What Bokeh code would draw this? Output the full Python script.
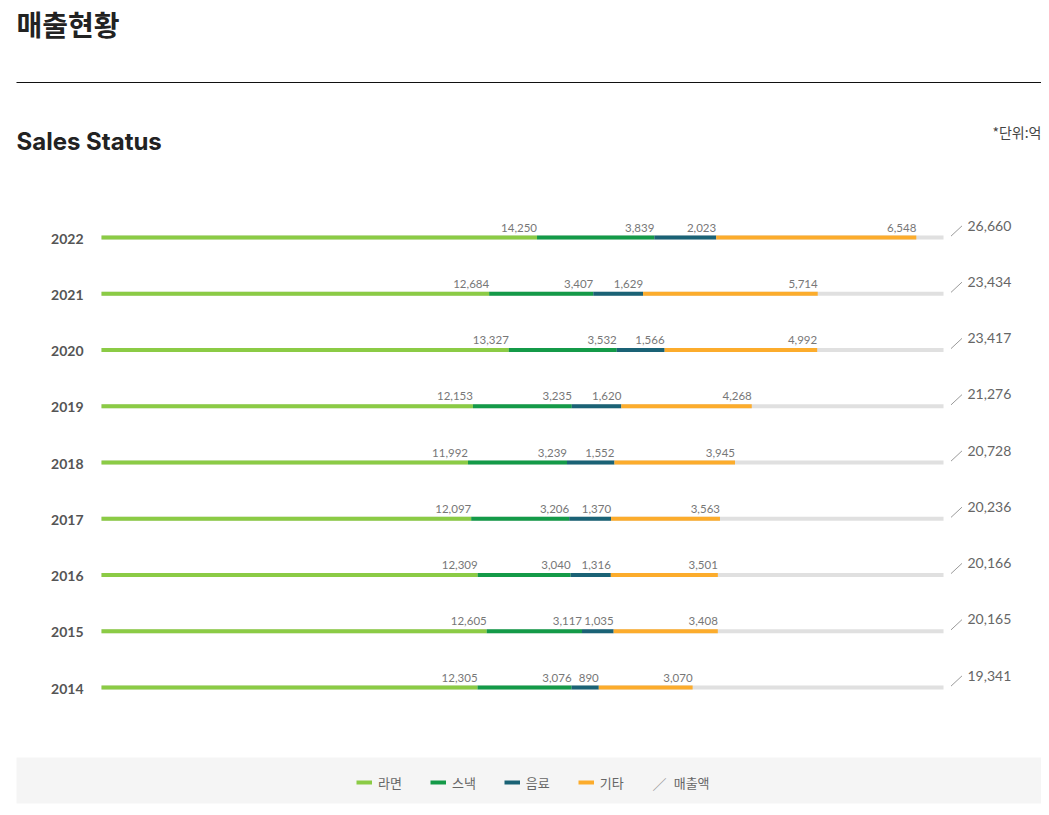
from bokeh.plotting import figure
from bokeh.models import (ColumnDataSource, Range1d, Label, BoxAnnotation,
                          Legend, LegendItem)
from bokeh.core.properties import value
from bokeh.transform import dodge
from bokeh.embed import file_html
from bokeh.resources import INLINE

# ---------------- data (unit: 억) ----------------
YEARS = ["2022", "2021", "2020", "2019", "2018", "2017", "2016", "2015", "2014"]
RAMEN = [14250, 12684, 13327, 12153, 11992, 12097, 12309, 12605, 12305]
SNACK = [3839, 3407, 3532, 3235, 3239, 3206, 3040, 3117, 3076]
DRINK = [2023, 1629, 1566, 1620, 1552, 1370, 1316, 1035, 890]
OTHER = [6548, 5714, 4992, 4268, 3945, 3563, 3501, 3408, 3070]
TOTAL = [26660, 23434, 23417, 21276, 20728, 20236, 20166, 20165, 19341]
SERIES_NAMES = ["라면", "스낵", "음료", "기타"]
TOTAL_NAME = "매출액"
TRACK_MAX = 27550  # length of the grey background track

# ---------------- style ----------------
COLORS = ["#8BCB45", "#149A48", "#1A6275", "#FCAC2C"]
TRACK_COLOR = "#E0E0E0"
NUM_FONT = "Lato"
KR_FONT = "Noto Sans CJK KR"

W, H = 1041, 808
LEFT_PX, TRACK_PX = 101, 842
ROW0_PX, ROW_PX = 237, 56.25

sx = TRACK_PX / TRACK_MAX
x_start = -LEFT_PX / sx
x_end = x_start + W / sx
y_top = -ROW0_PX / ROW_PX
y_bottom = (H - ROW0_PX) / ROW_PX

p = figure(width=W, height=H, x_range=Range1d(x_start, x_end),
           y_range=Range1d(y_bottom, y_top), x_axis_type=None, y_axis_type=None,
           toolbar_location=None, output_backend="svg", min_border=0,
           outline_line_color=None, background_fill_color="white")

n = len(YEARS)
rows = list(range(n))
series = [RAMEN, SNACK, DRINK, OTHER]
data = dict(row=rows, year=YEARS, zero=[0] * n, track=[TRACK_MAX] * n,
            total_label=[f"{v:,}" for v in TOTAL])
cum = [0] * n
for i, vals in enumerate(series):
    data[f"s{i}"] = list(cum)
    cum = [c + v for c, v in zip(cum, vals)]
    data[f"e{i}"] = list(cum)
    data[f"l{i}"] = [f"{v:,}" for v in vals]
src = ColumnDataSource(data)

# background track
p.segment(x0="zero", x1="track", y0="row", y1="row", source=src,
          line_color=TRACK_COLOR, line_width=4)

seg_renderers = []
for i in range(4):
    r = p.segment(x0=f"s{i}", x1=f"e{i}", y0="row", y1="row", source=src,
                  line_color=COLORS[i], line_width=4)
    seg_renderers.append(r)

for i in range(4):
    p.text(x=f"e{i}", y="row", text=f"l{i}", source=src, text_align="right",
           text_baseline="middle", y_offset=-10, text_font=value(NUM_FONT),
           text_font_size="11.5px", text_color="#777777")

# year labels
p.text(x="zero", y="row", text="year", source=src, text_align="right",
       text_baseline="middle", x_offset=-18, y_offset=1, text_font=value(NUM_FONT),
       text_font_size="14px", text_font_style=value("bold"), text_color="#555555")

# totals: slash + label
p.scatter(x=dodge("track", 13 / sx, range=p.x_range),
          y=dodge("row", -6.5 / ROW_PX, range=p.y_range), source=src,
          marker="dash", size=15, angle=0.75, line_color="#9a9a9a", line_width=1)
tot_r = p.text(x="track", y="row", text="total_label", source=src, text_align="left",
               text_baseline="middle", x_offset=24, y_offset=-12,
               text_font=value(NUM_FONT), text_font_size="14px", text_color="#666666")

# ---------------- titles ----------------
p.add_layout(Label(x=16, y=H - 23, x_units="screen", y_units="screen", text="매출현황",
                   text_font=KR_FONT, text_font_size="28px", text_font_style="bold",
                   text_color="#222222", text_baseline="middle"))
p.add_layout(BoxAnnotation(left=16, right=W, top=H - 81.5, bottom=H - 82.5,
                           left_units="screen", right_units="screen",
                           top_units="screen", bottom_units="screen",
                           fill_color="#111111", fill_alpha=1, line_color=None))
p.add_layout(Label(x=16, y=H - 141, x_units="screen", y_units="screen", text="Sales Status",
                   text_font="Inter", text_font_size="24px", text_font_style="bold",
                   text_color="#222222", text_baseline="middle"))
p.add_layout(Label(x=W, y=H - 131, x_units="screen", y_units="screen", text="*단위:억",
                   text_font=KR_FONT, text_font_size="14px", text_color="#444444",
                   text_align="right", text_baseline="middle"))

# ---------------- legend ----------------
p.add_layout(BoxAnnotation(left=16, right=W, top=H - 757, bottom=H - 803,
                           left_units="screen", right_units="screen",
                           top_units="screen", bottom_units="screen",
                           fill_color="#F5F5F5", fill_alpha=1, line_color=None))
items = [LegendItem(label=name, renderers=[r]) for name, r in zip(SERIES_NAMES, seg_renderers)]
items.append(LegendItem(label=TOTAL_NAME, renderers=[tot_r]))
legend = Legend(items=items, orientation="horizontal", location=(356, H - 782 - 10),
                glyph_width=16, glyph_height=16, label_height=20, label_standoff=6,
                spacing=28, padding=0, margin=0, border_line_alpha=0,
                background_fill_alpha=0, label_text_font=KR_FONT,
                label_text_font_size="13px", label_text_color="#666666")
p.add_layout(legend)
p.add_layout(Label(x=659, y=H - 782, x_units="screen", y_units="screen", text="／",
                   text_font=KR_FONT, text_font_size="14px", text_color="#999999",
                   text_align="center", text_baseline="middle"))

open("out.html", "w").write(file_html(p, INLINE))
